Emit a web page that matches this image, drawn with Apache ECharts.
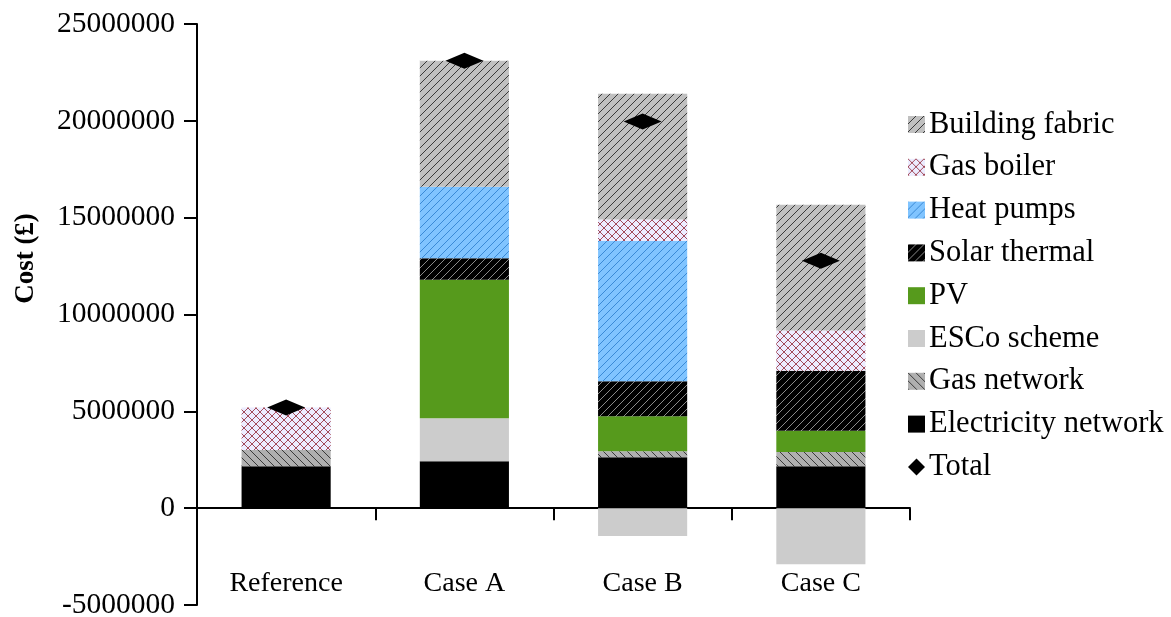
<!DOCTYPE html>
<html>
<head>
<meta charset="utf-8">
<script src="https://cdn.jsdelivr.net/npm/echarts@6/dist/echarts.min.js"></script>
<style>html,body{margin:0;padding:0;background:#fff}#c{width:1171px;height:617px}</style>
</head>
<body>
<div id="c"></div>
<script>
var categories = ['Reference', 'Case A', 'Case B', 'Case C'];
var electricityNetwork = [2160000, 2420000, 2630000, 2160000];
var gasNetwork = [840000, 0, 310000, 740000];
var escoScheme = [0, 2220000, -1440000, -2900000];
var pv = [0, 7160000, 1800000, 1100000];
var solarThermal = [0, 1100000, 1810000, 3100000];
var heatPumps = [0, 3700000, 7250000, 0];
var gasBoiler = [2200000, 0, 1100000, 2080000];
var buildingFabric = [0, 6500000, 6500000, 6490000];
var total = [5200000, 23100000, 19960000, 12770000];
var yTicks = { min: -5000000, max: 25000000, interval: 5000000 };

function hatch(bg, fg, dir, cross) {
  var s = 8;
  var c = document.createElement('canvas');
  c.width = s; c.height = s;
  var g = c.getContext('2d');
  g.fillStyle = bg; g.fillRect(0, 0, s, s);
  g.strokeStyle = fg; g.lineWidth = 1;
  function slash() {
    g.beginPath();
    g.moveTo(-1, 1); g.lineTo(1, -1);
    g.moveTo(0, s); g.lineTo(s, 0);
    g.moveTo(s - 1, s + 1); g.lineTo(s + 1, s - 1);
    g.stroke();
  }
  function back() {
    g.beginPath();
    g.moveTo(-1, s - 1); g.lineTo(1, s + 1);
    g.moveTo(0, 0); g.lineTo(s, s);
    g.moveTo(s - 1, -1); g.lineTo(s + 1, 1);
    g.stroke();
  }
  if (cross) { slash(); back(); }
  else if (dir === '/') slash(); else back();
  return { image: c, repeat: 'repeat' };
}

var font = '"Liberation Serif", "Times New Roman", serif';
var colors = {
  building: hatch('#c0c0c0', '#3a3a3a', '/'),
  boiler: hatch('#ececff', '#a24a5a', '/', true),
  hp: hatch('#80c4ff', '#3a8ad6', '/'),
  solar: hatch('#000000', '#8a8a8a', '/'),
  pv: '#569a1c',
  esco: '#cccccc',
  gasnet: hatch('#b0b0b0', '#3a3a3a', '\\'),
  elec: '#000000'
};

function bar(name, data, color) {
  return { name: name, type: 'bar', stack: 'cost', data: data, barWidth: '50%',
    itemStyle: { color: color }, emphasis: { disabled: true } };
}

var series = [
  bar('Electricity network', electricityNetwork, colors.elec),
  bar('Gas network', gasNetwork, colors.gasnet),
  bar('ESCo scheme', escoScheme, colors.esco),
  bar('PV', pv, colors.pv),
  bar('Solar thermal', solarThermal, colors.solar),
  bar('Heat pumps', heatPumps, colors.hp),
  bar('Gas boiler', gasBoiler, colors.boiler),
  bar('Building fabric', buildingFabric, colors.building),
  { name: 'Total', type: 'scatter', data: total, symbol: 'diamond', symbolSize: [38, 16],
    itemStyle: { color: '#000', opacity: 1 }, z: 10 }
];

var chart = echarts.init(document.getElementById('c'));
chart.setOption({
  animation: false,
  grid: { left: 197, right: 261, top: 24, bottom: 12, containLabel: false, outerBoundsMode: 'none' },
  legend: {
    orient: 'vertical', left: 903, top: 104, icon: 'rect',
    itemWidth: 17, itemHeight: 17, itemGap: 11.8,
    textStyle: { fontFamily: font, fontSize: 30.5, color: '#000', padding: [0, 0, 0, -1] },
    data: ['Building fabric', 'Gas boiler', 'Heat pumps', 'Solar thermal', 'PV', 'ESCo scheme',
      'Gas network', 'Electricity network', { name: 'Total', icon: 'diamond' }]
  },
  xAxis: {
    type: 'category', data: categories,
    axisLine: { onZero: true, lineStyle: { color: '#000', width: 2 } },
    axisTick: { show: true, length: 12, lineStyle: { color: '#000', width: 2 } },
    axisLabel: { margin: -35, fontFamily: font, fontSize: 28, color: '#000' }
  },
  yAxis: {
    type: 'value', min: yTicks.min, max: yTicks.max, interval: yTicks.interval,
    name: 'Cost (£)', nameLocation: 'middle', nameGap: 157,
    nameTextStyle: { fontFamily: font, fontSize: 27, fontWeight: 'bold', color: '#000', padding: [0, 0, 0, 112] },
    axisLine: { show: true, lineStyle: { color: '#000', width: 2 } },
    axisTick: { show: true, length: 13, lineStyle: { color: '#000', width: 2 } },
    axisLabel: { margin: 22, fontFamily: font, fontSize: 29.5, color: '#000',
      formatter: function (v) { return String(v); } },
    splitLine: { show: false }
  },
  series: series
});
</script>
</body>
</html>
